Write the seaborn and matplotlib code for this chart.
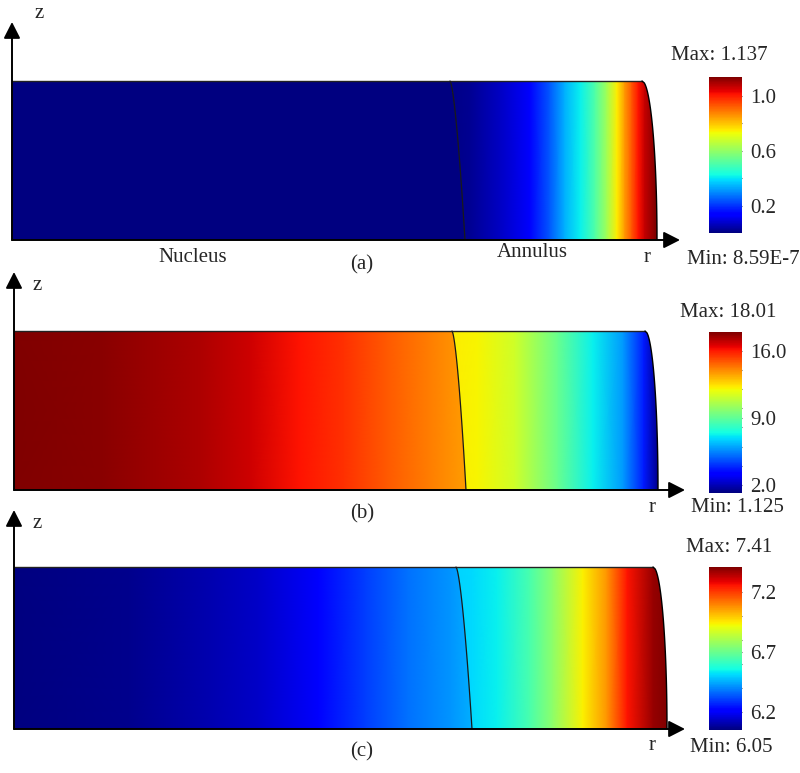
import numpy as np
import matplotlib
matplotlib.use("Agg")
import matplotlib.pyplot as plt
import matplotlib.colors as mcolors
import matplotlib.cm as mcm
from matplotlib.path import Path
from matplotlib.patches import PathPatch
import seaborn as sns

# ---------------- data (r as fraction of outer radius) -------------
panel_labels = ["(a)", "(b)", "(c)"]
vmins = [8.59e-7, 1.125, 6.05]
vmaxs = [1.137, 18.01, 7.41]
min_texts = ["Min: 8.59E-7", "Min: 1.125", "Min: 6.05"]
max_texts = ["Max: 1.137", "Max: 18.01", "Max: 7.41"]

a_nuc_r = [0.0, 0.35, 0.72]
a_nuc_v = [0.0, 0.0, 0.004]
a_ann_r = [0.665, 0.687, 0.710, 0.757, 0.803, 0.834, 0.857, 0.881, 0.904, 0.922,
           0.938, 0.950, 0.961, 0.971, 0.981, 0.997, 1.0]
a_ann_v = [0.01, 0.012, 0.02, 0.07, 0.125, 0.24, 0.34, 0.41, 0.51, 0.62,
           0.75, 0.85, 0.93, 1.01, 1.07, 1.13, 1.137]

b_nuc_r = [0.0, 0.134, 0.289, 0.366, 0.444, 0.512, 0.579, 0.646, 0.693, 0.72]
b_nuc_v = [18.0, 17.82, 17.33, 16.83, 16.15, 15.58, 14.9, 14.2, 13.75, 13.6]
b_ann_r = [0.665, 0.719, 0.778, 0.845, 0.899, 0.946, 0.978, 0.998, 1.0]
b_ann_v = [12.3, 12.1, 11.26, 9.13, 7.2, 5.77, 3.66, 1.5, 1.125]

c_nuc_r = [0.0, 0.176, 0.308, 0.374, 0.466, 0.538, 0.603, 0.669, 0.698, 0.72]
c_nuc_v = [6.05, 6.07, 6.11, 6.14, 6.20, 6.305, 6.37, 6.42, 6.45, 6.455]
c_ann_r = [0.665, 0.701, 0.740, 0.790, 0.825, 0.871, 0.908, 0.939, 0.979, 1.0]
c_ann_v = [6.5, 6.51, 6.54, 6.65, 6.76, 6.94, 7.07, 7.26, 7.38, 7.41]

cb_major = [[0.2, 0.6, 1.0], [2.0, 9.0, 16.0], [6.2, 6.7, 7.2]]
cb_minor = [[0.4, 0.8], [4, 6, 8, 10, 12, 14], [6.4, 6.6, 6.8, 7.0]]

nuc_r = [a_nuc_r, b_nuc_r, c_nuc_r]
nuc_v = [a_nuc_v, b_nuc_v, c_nuc_v]
ann_r = [a_ann_r, b_ann_r, c_ann_r]
ann_v = [a_ann_v, b_ann_v, c_ann_v]

# ---------------- layout (pixels) ----------------
FW, FH = 800, 773
geo = [
    dict(x0=12, xbr=657, xtr=642, ytop=81, ybot=240, xit=450, xib=465, rtip=680, ztip=22),
    dict(x0=14, xbr=658, xtr=645, ytop=331, ybot=490, xit=452, xib=466, rtip=685, ztip=272),
    dict(x0=14, xbr=667, xtr=653, ytop=567, ybot=729, xit=456, xib=472, rtip=685, ztip=510),
]
cb_box = [(77, 233), (332, 493), (567, 730)]
txt_pos = [
    dict(z=(39, 13), r=(647, 257), lab=(362, 265), mx=(719, 55), mn=(743, 260)),
    dict(z=(37, 285), r=(652, 507), lab=(362, 514), mx=(728, 312), mn=(737, 508)),
    dict(z=(37, 523), r=(652, 745), lab=(362, 752), mx=(729, 548), mn=(731, 748)),
]

sns.set_theme(style="white")
plt.rcParams['font.family'] = ['Liberation Serif', 'DejaVu Serif']
FS = 15

cmap = matplotlib.colormaps["jet"]
fig = plt.figure(figsize=(FW / 100, FH / 100), dpi=100)
fig.patch.set_facecolor("white")


def fbox(left, top, right, bottom):
    return [left / FW, 1 - bottom / FH, (right - left) / FW, (bottom - top) / FH]


def ftxt(x, y):
    return x / FW, 1 - y / FH


for i, g in enumerate(geo):
    W = g['xbr'] - g['x0']
    ax = fig.add_axes(fbox(g['x0'], g['ztip'], g['rtip'], g['ybot']))
    xmax = (g['rtip'] - g['x0']) / W
    zmax = (g['ybot'] - g['ztip']) / W
    ax.set_xlim(0, xmax)
    ax.set_ylim(0, zmax)
    ax.axis('off')
    h = (g['ybot'] - g['ytop']) / W
    rt = (g['xtr'] - g['x0']) / W
    it = (g['xit'] - g['x0']) / W
    ib = (g['xib'] - g['x0']) / W
    s = np.linspace(0, 1, 80)
    zc = h * (1 - s)
    right_r = rt + (1 - rt) * np.sqrt(1 - (1 - s) ** 2)
    intf_r = it + (ib - it) * s ** 0.65

    nuc_poly = [(0, 0), (ib, 0)] + list(zip(intf_r[::-1], zc[::-1])) + [(0, h), (0, 0)]
    ann_poly = ([(ib, 0), (1, 0)] + list(zip(right_r[::-1], zc[::-1])) + [(it, h)]
                + list(zip(intf_r, zc)) + [(ib, 0)])

    norm = mcolors.Normalize(vmins[i], vmaxs[i])
    for rr, vv, poly in [(nuc_r[i], nuc_v[i], nuc_poly), (ann_r[i], ann_v[i], ann_poly)]:
        C = np.vstack([vv, vv])
        m = ax.pcolormesh(np.asarray(rr), [0, h], C, cmap=cmap, norm=norm,
                          shading='gouraud', zorder=1)
        m.set_clip_path(PathPatch(Path(poly), transform=ax.transData))

    ax.plot([0, rt], [h, h], color='#222222', lw=1.0, zorder=3)
    ax.plot(right_r, zc, color='black', lw=1.0, zorder=3)
    ax.plot(intf_r, zc, color='#1a1a1a', lw=0.9, zorder=3)

    ap = dict(arrowstyle='-|>,head_length=0.55,head_width=0.28', color='black',
              lw=1.4, mutation_scale=18, shrinkA=0, shrinkB=0)
    ax.annotate('', xy=(xmax, 0), xytext=(0, 0), arrowprops=ap, annotation_clip=False, zorder=4)
    ax.annotate('', xy=(0, zmax), xytext=(0, 0), arrowprops=ap, annotation_clip=False, zorder=4)

    top, bot = cb_box[i]
    cax = fig.add_axes(fbox(709, top, 742, bot))
    sm = mcm.ScalarMappable(norm=norm, cmap=cmap)
    cb = fig.colorbar(sm, cax=cax)
    cb.outline.set_visible(False)
    cb.set_ticks(cb_major[i])
    cb.set_ticklabels([f"{t:.1f}" for t in cb_major[i]])
    cax.set_yticks(cb_minor[i], minor=True)
    cax.tick_params(axis='y', which='both', direction='in', left=True, right=True,
                    length=4, width=0.8, color='#555555', labelsize=FS, pad=6)
    cax.tick_params(axis='y', which='minor', length=4)

    tp = txt_pos[i]
    fig.text(*ftxt(*tp['z']), 'z', fontsize=FS, ha='center', va='center')
    fig.text(*ftxt(*tp['r']), 'r', fontsize=FS, ha='center', va='center')
    fig.text(*ftxt(*tp['lab']), panel_labels[i], fontsize=FS, ha='center', va='center')
    fig.text(*ftxt(*tp['mx']), max_texts[i], fontsize=FS, ha='center', va='center')
    fig.text(*ftxt(*tp['mn']), min_texts[i], fontsize=FS, ha='center', va='center')

fig.text(*ftxt(193, 257), 'Nucleus', fontsize=FS, ha='center', va='center')
fig.text(*ftxt(532, 253), 'Annulus', fontsize=FS, ha='center', va='center')

fig.savefig("out.png", dpi=100, facecolor="white")
